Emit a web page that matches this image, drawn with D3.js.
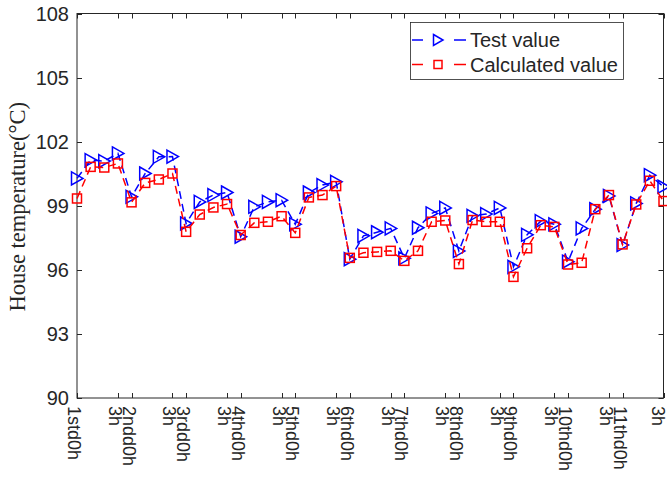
<!DOCTYPE html>
<html>
<head>
<meta charset="utf-8">
<script src="https://cdn.jsdelivr.net/npm/d3@7"></script>
<style>
  body { margin: 0; background: #fff; }
  text { font-family: "Liberation Sans", Arial, Helvetica, sans-serif; fill: #262626; }
</style>
</head>
<body>
<svg id="chart" width="667" height="481"></svg>
<script>
// Measured and calculated house temperature (°C), one sample per step
const testValue = [
  100.28, 101.14, 101.09, 101.45, 99.42, 100.51, 101.29, 101.30,
  98.17, 99.18, 99.50, 99.62, 97.55, 98.95, 99.18, 99.26,
  98.13, 99.62, 99.97, 100.12, 96.50, 97.59, 97.76, 97.94,
  96.54, 97.97, 98.64, 98.90, 96.88, 98.53, 98.61, 98.90,
  96.14, 97.64, 98.28, 98.13, 96.38, 97.94, 98.84, 99.46,
  97.16, 99.11, 100.43, 99.89
];
const calcValue = [
  99.34, 100.82, 100.79, 100.98, 99.16, 100.07, 100.23, 100.51,
  97.78, 98.59, 98.92, 99.08, 97.63, 98.20, 98.25, 98.51,
  97.73, 99.39, 99.50, 99.92, 96.56, 96.80, 96.84, 96.89,
  96.42, 96.89, 98.25, 98.31, 96.27, 98.33, 98.25, 98.25,
  95.67, 97.01, 98.09, 98.01, 96.25, 96.33, 98.84, 99.50,
  97.19, 99.06, 100.17, 99.22
];

// x-axis ticks (sample index) and their labels
const tickIndex = [0, 3, 4, 7, 8, 11, 12, 15, 16, 19, 20, 23, 24, 27, 28, 31,
                   32, 35, 36, 39, 40, 43];
const tickLabels = ['1std0h', '3h', '2ndd0h', '3h', '3rdd0h', '3h', '4thd0h', '3h',
                    '5thd0h', '3h', '6thd0h', '3h', '7thd0h', '3h', '8thd0h', '3h',
                    '9thd0h', '3h', '10thd0h', '3h', '11thd0h', '3h'];
const yTicks = [90, 93, 96, 99, 102, 105, 108];

const seriesNames = ['Test value', 'Calculated value'];
const seriesColors = ['#0000ff', '#ff0000'];

const width = 667;
const svg = d3.select('#chart');
const box = { left: 77, right: 663.5, top: 13.5, bottom: 398 };

const x = d3.scaleLinear().domain([0, testValue.length - 1]).range([box.left, box.right]);
const y = d3.scaleLinear().domain([90, 108]).range([box.bottom, box.top]);

const axisColor = '#262626';
const tickLen = 5;

// Plot box
svg.append('rect')
  .attr('x', box.left).attr('y', box.top)
  .attr('width', box.right - box.left).attr('height', box.bottom - box.top)
  .attr('fill', 'none').attr('stroke', axisColor).attr('stroke-width', 1);

// Inward ticks on all four sides
const tickG = svg.append('g').attr('stroke', axisColor).attr('stroke-width', 1);
tickIndex.forEach(i => {
  const xp = Math.round(x(i)) + 0.5;
  tickG.append('line').attr('x1', xp).attr('x2', xp).attr('y1', box.bottom).attr('y2', box.bottom - tickLen);
  tickG.append('line').attr('x1', xp).attr('x2', xp).attr('y1', box.top).attr('y2', box.top + tickLen);
});
yTicks.forEach(v => {
  const yp = Math.round(y(v)) + 0.5;
  tickG.append('line').attr('x1', box.left).attr('x2', box.left + tickLen).attr('y1', yp).attr('y2', yp);
  tickG.append('line').attr('x1', box.right).attr('x2', box.right - tickLen).attr('y1', yp).attr('y2', yp);
});

// Y tick labels
svg.append('g').selectAll('text').data(yTicks).join('text')
  .attr('x', box.left - 8).attr('y', d => y(d))
  .attr('text-anchor', 'end').attr('dominant-baseline', 'central')
  .style('font-size', '20px')
  .text(d => d);

// X tick labels, rotated to read downward (kept inside the page on the right)
svg.append('g').selectAll('text').data(tickIndex).join('text')
  .attr('transform', d => `translate(${Math.min(x(d) - 3, width - 9)},${box.bottom + 8}) rotate(90)`)
  .attr('text-anchor', 'start').attr('dominant-baseline', 'central')
  .style('font-size', '18px')
  .text((d, i) => tickLabels[i]);

// Y axis title
svg.append('text')
  .attr('transform', `translate(17,${(box.top + box.bottom) / 2 + 1}) rotate(-90)`)
  .attr('text-anchor', 'middle').attr('dominant-baseline', 'central')
  .style('font-family', '"Liberation Serif", "Times New Roman", serif')
  .style('font-size', '22.5px')
  .text('House temperature(°C)');

// Marker shapes
const triPath = 'M-5.5,-6.5 L6,0 L-5.5,6.5 Z';
const sqHalf = 4.5;

function drawMarker(g, kind, color, cx, cy) {
  if (kind === 0) {
    g.append('path').attr('d', triPath)
      .attr('transform', `translate(${cx},${cy})`)
      .attr('fill', 'none').attr('stroke', color).attr('stroke-width', 1.5);
  } else {
    g.append('rect')
      .attr('x', cx - sqHalf).attr('y', cy - sqHalf)
      .attr('width', sqHalf * 2).attr('height', sqHalf * 2)
      .attr('fill', 'none').attr('stroke', color).attr('stroke-width', 1.5);
  }
}

const line = d3.line().x((d, i) => x(i)).y(d => y(d));

[testValue, calcValue].forEach((vals, k) => {
  const g = svg.append('g');
  g.append('path').datum(vals).attr('d', line)
    .attr('fill', 'none').attr('stroke', seriesColors[k])
    .attr('stroke-width', 1.5).attr('stroke-dasharray', '8,5');
  vals.forEach((v, i) => drawMarker(g, k, seriesColors[k], x(i), y(v)));
});

// Legend
const lg = svg.append('g');
lg.append('rect').attr('x', 410.5).attr('y', 22.5).attr('width', 213).attr('height', 57)
  .attr('fill', '#fff').attr('stroke', axisColor).attr('stroke-width', 0.8);
seriesNames.forEach((name, k) => {
  const ly = 40 + k * 24.5;
  lg.append('line').attr('x1', 412).attr('x2', 423).attr('y1', ly).attr('y2', ly)
    .attr('stroke', seriesColors[k]).attr('stroke-width', 1.5);
  lg.append('line').attr('x1', 454).attr('x2', 466).attr('y1', ly).attr('y2', ly)
    .attr('stroke', seriesColors[k]).attr('stroke-width', 1.5);
  if (k === 0) {
    lg.append('path').attr('d', 'M-4.5,-5.5 L5,0 L-4.5,5.5 Z')
      .attr('transform', `translate(438,${ly})`)
      .attr('fill', 'none').attr('stroke', seriesColors[k]).attr('stroke-width', 1.5);
  } else {
    lg.append('rect').attr('x', 434).attr('y', ly - 4).attr('width', 8).attr('height', 8)
      .attr('fill', 'none').attr('stroke', seriesColors[k]).attr('stroke-width', 1.5);
  }
  lg.append('text').attr('x', 470).attr('y', ly)
    .attr('dominant-baseline', 'central')
    .style('font-size', '20px')
    .text(name);
});
</script>
</body>
</html>
